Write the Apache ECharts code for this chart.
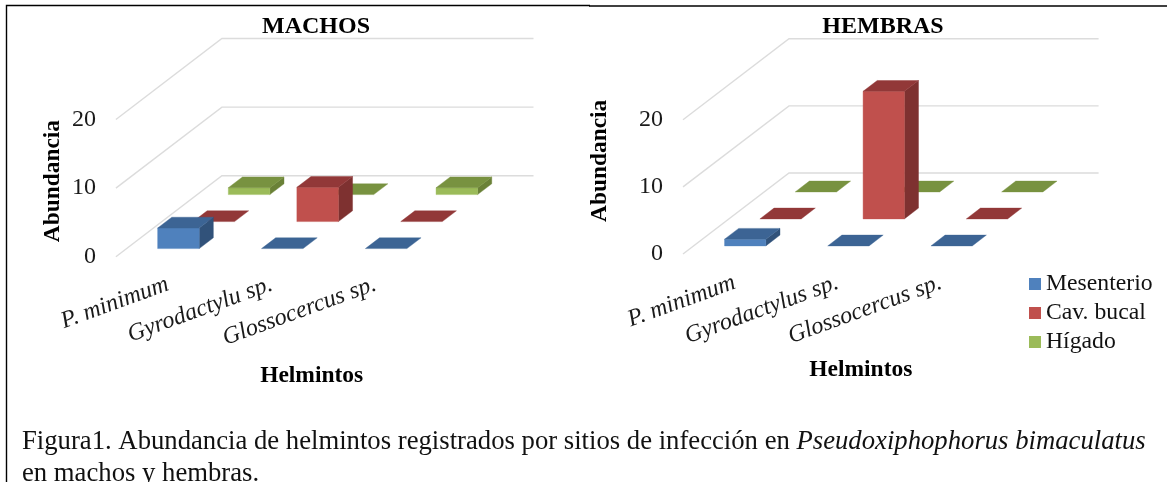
<!DOCTYPE html>
<html><head><meta charset="utf-8">
<style>html,body{margin:0;padding:0;background:#fff}#c{width:1167px;height:482px}</style>
<script src="https://cdn.jsdelivr.net/npm/echarts@6/dist/echarts.min.js"></script>
</head><body><div id="c"></div>
<script>
const categoriesMachos = ['P. minimum', 'Gyrodactylu sp.', 'Glossocercus sp.'];
const categoriesHembras = ['P. minimum', 'Gyrodactylus sp.', 'Glossocercus sp.'];
const siteNames = ['Mesenterio', 'Cav. bucal', 'Hígado'];
const machosMesenterio = [3, 0, 0];
const machosCavBucal = [0, 5, 0];
const machosHigado = [1, 0, 1];
const hembrasMesenterio = [1, 0, 0];
const hembrasCavBucal = [0, 19, 0];
const hembrasHigado = [0, 0, 0];
const yTicks = [0, 10, 20];

const faceColors = [
  {front:'#4F81BD', top:'#3C6494', side:'#31527A'},
  {front:'#C0504D', top:'#923838', side:'#7E3130'},
  {front:'#9BBB59', top:'#789240', side:'#6A8137'}
];
const SERIF = '"Liberation Serif","Times New Roman",serif';
const DEPTH = [106, -81];
const ROWS = 3;

function project(api, cat, val, u, d) {
  const c = api.coord([cat, val]);
  const band = api.size([1, 0])[0];
  return [c[0] + u * band + d * DEPTH[0] / ROWS, c[1] + d * DEPTH[1] / ROWS];
}
function barRender(row) {
  return function (params, api) {
    const cat = api.value(0), v = api.value(1);
    const col = faceColors[row];
    const u0 = -0.2, u1 = 0.2, d0 = row + 0.3, d1 = row + 0.7;
    const P = (val, u, d) => project(api, cat, val, u, d);
    const children = [];
    const poly = (pts, fill) => children.push({type:'polygon', shape:{points:pts}, style:{fill, stroke:fill, lineWidth:0.4}});
    if (v > 0) {
      poly([P(0,u1,d0), P(0,u1,d1), P(v,u1,d1), P(v,u1,d0)], col.side);
      poly([P(0,u0,d0), P(0,u1,d0), P(v,u1,d0), P(v,u0,d0)], col.front);
    }
    poly([P(v,u0,d0), P(v,u1,d0), P(v,u1,d1), P(v,u0,d1)], col.top);
    return {type:'group', children};
  };
}
function wallRender(params, api) {
  const v = api.value(1);
  const band = api.size([1, 0])[0];
  const a = api.coord([0, v]);
  const x0 = a[0] - band / 2;
  const pts = [[x0, a[1]], [x0 + DEPTH[0], a[1] + DEPTH[1]], [x0 + DEPTH[0] + band * ROWS, a[1] + DEPTH[1]]];
  return {type:'polyline', shape:{points:pts}, style:{stroke:'#dcdcdc', lineWidth:1.4, fill:null}};
}
function xAxis(gridIndex, cats, rot, gap, pad, margin) {
  return {
    type:'category', gridIndex, data:cats,
    axisLine:{show:false}, axisTick:{show:false}, splitLine:{show:false},
    axisLabel:{interval:0, rotate:rot, margin, hideOverlap:false, fontFamily:SERIF, fontStyle:'italic', fontSize:24, color:'#1a1a1a'},
    name:'Helmintos', nameLocation:'middle', nameGap:gap,
    nameTextStyle:{fontFamily:SERIF, fontWeight:'bold', fontSize:23.5, color:'#000', padding:[0,0,0,pad]}
  };
}
function yAxis(gridIndex, pad, gap) {
  return {
    type:'value', gridIndex, min:0, max:20, interval:10,
    axisLine:{show:false}, axisTick:{show:false}, splitLine:{show:false},
    axisLabel:{margin:20, fontFamily:SERIF, fontSize:24, color:'#1a1a1a'},
    name:'Abundancia', nameLocation:'middle', nameGap:gap, nameRotate:90,
    nameTextStyle:{fontFamily:SERIF, fontWeight:'bold', fontSize:23.4, color:'#000', padding:[0,0,0,pad]}
  };
}
function panel(g, values) {
  const out = [{
    type:'custom', xAxisIndex:g, yAxisIndex:g, z:1, silent:true, clip:false,
    renderItem:wallRender, data:yTicks.map(t => [0, t]), encode:{x:0, y:1}
  }];
  [2, 1, 0].forEach(row => {
    out.push({
      type:'custom', name:siteNames[row], xAxisIndex:g, yAxisIndex:g, z:2 + (2 - row), clip:false,
      itemStyle:{color:faceColors[row].front},
      renderItem:barRender(row), data:values[row].map((v, i) => [i, v]), encode:{x:0, y:1}
    });
  });
  return out;
}
const option = {
  animation:false, backgroundColor:'#fff',
  title:[
    {text:'MACHOS', left:316, top:15, padding:0, textAlign:'center', textStyle:{fontFamily:SERIF, fontWeight:'bold', fontSize:24, color:'#000'}},
    {text:'HEMBRAS', left:883, top:15, padding:0, textAlign:'center', textStyle:{fontFamily:SERIF, fontWeight:'bold', fontSize:24, color:'#000'}},
    {text:'{a|Figura1. Abundancia de helmintos registrados por sitios de infección en }{b|Pseudoxiphophorus bimaculatus}\n{a|en machos y hembras.}',
     left:22, top:426, padding:0,
     textStyle:{rich:{
       a:{fontFamily:SERIF, fontSize:26.7, fontWeight:'normal', color:'#111', lineHeight:32},
       b:{fontFamily:SERIF, fontSize:26.7, fontWeight:'normal', fontStyle:'italic', color:'#111', lineHeight:32}
     }}}
  ],
  legend:{
    data:siteNames, orient:'vertical', left:1029, top:272, itemWidth:12, itemHeight:12, itemGap:5, padding:0,
    icon:'rect', selectedMode:false,
    textStyle:{fontFamily:SERIF, fontSize:23.7, color:'#111', padding:[0,0,0,0]}
  },
  grid:[
    {left:115.9, top:119.5, width:311.6, height:137.2},
    {left:683, top:119.7, width:309.6, height:134.3}
  ],
  xAxis:[xAxis(0, categoriesMachos, 20, 107, 80, 27), xAxis(1, categoriesHembras, 20, 104, 46, 28)],
  yAxis:[yAxis(0, 14, 51), yAxis(1, 52, 72)],
  series:[
    ...panel(0, [machosMesenterio, machosCavBucal, machosHigado]),
    ...panel(1, [hembrasMesenterio, hembrasCavBucal, hembrasHigado])
  ],
  graphic:[
    {type:'polyline', silent:true, shape:{points:[[6.5,482],[6.5,5.5],[590,5.5]]}, style:{stroke:'#000', lineWidth:1.4, fill:null}},
    {type:'line', silent:true, shape:{x1:589,y1:6,x2:1167,y2:6}, style:{stroke:'#000', lineWidth:1.4}}
  ]
};
echarts.init(document.getElementById('c'), null, {renderer:'canvas'}).setOption(option);
</script></body></html>
